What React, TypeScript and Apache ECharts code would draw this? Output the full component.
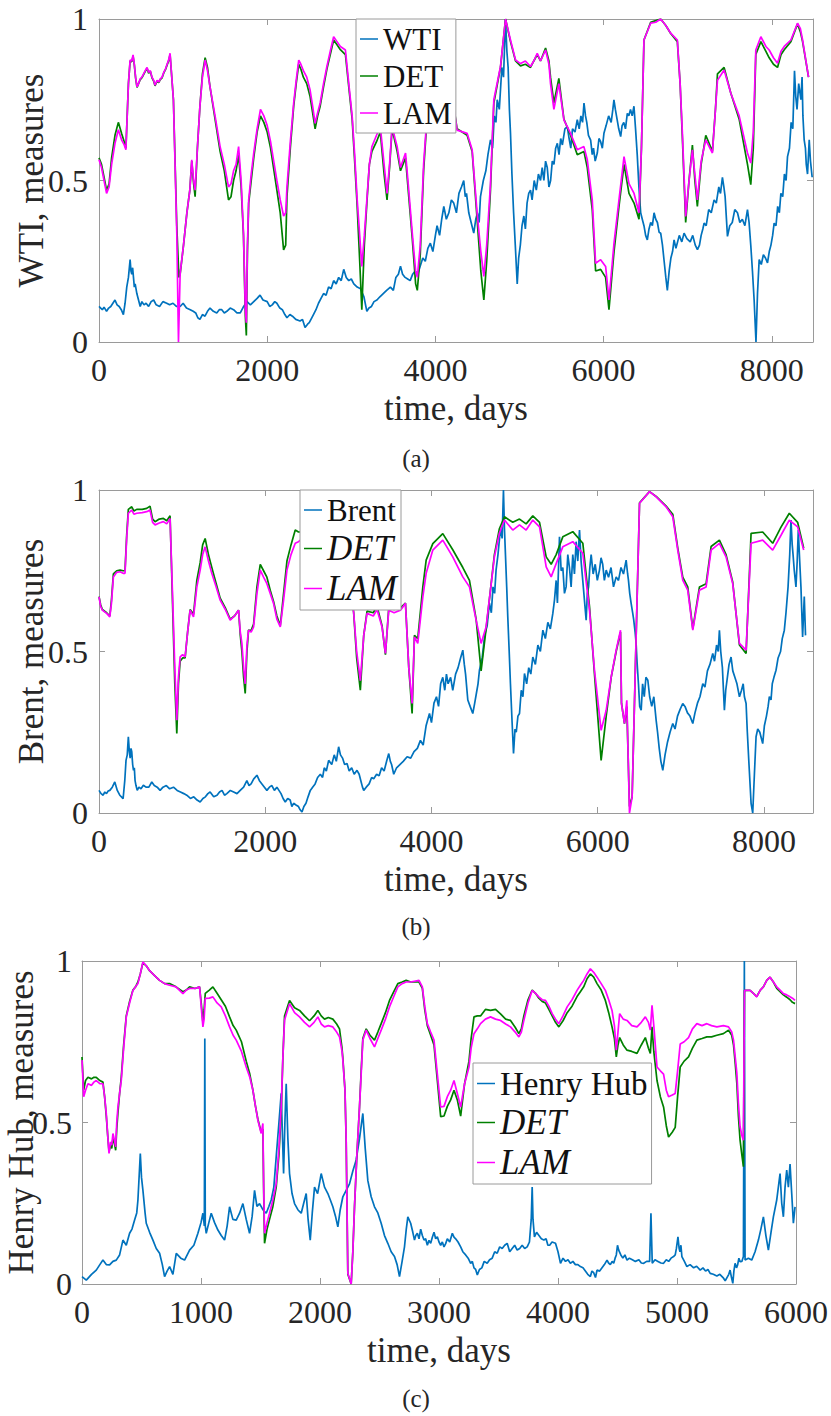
import React, { useEffect, useRef } from 'react';
import * as echarts from 'echarts';

// ---------- panel (a): WTI ----------
const wtiPrice = [
[0,0.11],[20,0.105],[40,0.10],[60,0.108],[90,0.095],[115,0.105],[140,0.11],[165,0.12],[190,0.13],[215,0.115],[240,0.11],[265,0.10],[290,0.085],[310,0.12],[330,0.17],[350,0.20],[370,0.255],[380,0.22],[390,0.21],[400,0.23],[410,0.20],[420,0.17],[430,0.18],[450,0.15],[470,0.13],[490,0.11],[510,0.125],[535,0.115],[560,0.12],[590,0.11],[620,0.125],[650,0.13],[680,0.115],[720,0.11],[760,0.125],[805,0.12],[840,0.115],[880,0.12],[920,0.11],[965,0.11],[1000,0.12],[1040,0.105],[1085,0.10],[1120,0.095],[1150,0.09],[1175,0.075],[1200,0.07],[1230,0.085],[1260,0.08],[1290,0.095],[1320,0.105],[1360,0.095],[1400,0.09],[1430,0.1],[1460,0.10],[1490,0.09],[1520,0.095],[1560,0.105],[1600,0.10],[1640,0.09],[1680,0.09],[1720,0.11],[1760,0.125],[1800,0.115],[1840,0.125],[1880,0.135],[1915,0.145],[1950,0.13],[2000,0.125],[2030,0.11],[2060,0.115],[2090,0.125],[2115,0.12],[2150,0.105],[2180,0.10],[2210,0.085],[2235,0.075],[2270,0.085],[2300,0.08],[2340,0.07],[2390,0.065],[2420,0.07],[2450,0.045],[2480,0.055],[2500,0.06],[2530,0.075],[2550,0.085],[2580,0.10],[2610,0.12],[2640,0.135],[2670,0.15],[2700,0.145],[2730,0.17],[2760,0.165],[2790,0.19],[2820,0.18],[2850,0.20],[2880,0.19],[2910,0.225],[2940,0.20],[2970,0.19],[3000,0.195],[3030,0.18],[3070,0.17],[3110,0.165],[3150,0.14],[3185,0.095],[3210,0.105],[3240,0.11],[3270,0.125],[3305,0.13],[3340,0.14],[3380,0.15],[3420,0.16],[3465,0.17],[3500,0.16],[3530,0.2],[3560,0.21],[3585,0.235],[3610,0.21],[3640,0.2],[3670,0.195],[3700,0.19],[3730,0.21],[3760,0.22],[3790,0.21],[3820,0.235],
[3850,0.26],[3880,0.25],[3910,0.29],[3940,0.306],[3970,0.28],[4000,0.33],[4020,0.36],[4050,0.33],[4075,0.38],[4100,0.42],[4130,0.38],[4160,0.40],[4190,0.44],[4218,0.43],[4250,0.40],[4280,0.46],[4310,0.48],[4337,0.50],[4355,0.45],[4370,0.46],[4397,0.40],[4425,0.37],[4456,0.337],[4480,0.38],[4500,0.40],[4520,0.37],[4536,0.45],[4570,0.50],[4600,0.53],[4625,0.58],[4655,0.626],[4680,0.60],[4700,0.70],[4720,0.68],[4735,0.75],[4760,0.72],[4790,0.85],[4810,0.82],[4834,1.0],[4850,0.90],[4865,0.85],[4880,0.72],[4893,0.646],[4910,0.52],[4930,0.40],[4950,0.30],[4973,0.18],[4990,0.26],[5010,0.30],[5030,0.36],[5052,0.39],[5070,0.35],[5090,0.43],[5110,0.46],[5131,0.47],[5150,0.44],[5175,0.50],[5200,0.47],[5225,0.52],[5250,0.50],[5270,0.54],[5290,0.50],[5310,0.56],[5330,0.54],[5350,0.48],[5370,0.50],[5390,0.56],[5410,0.55],[5430,0.60],[5450,0.615],[5470,0.58],[5490,0.63],[5510,0.61],[5540,0.66],[5568,0.667],[5590,0.63],[5610,0.60],[5630,0.66],[5660,0.65],[5687,0.688],[5710,0.66],[5730,0.70],[5750,0.68],[5767,0.74],[5785,0.70],[5800,0.68],[5820,0.64],[5846,0.625],[5865,0.58],[5880,0.60],[5900,0.56],[5925,0.585],[5945,0.63],[5965,0.62],[5985,0.60],[6004,0.646],[6030,0.67],[6060,0.70],[6090,0.68],[6110,0.72],[6123,0.75],[6140,0.72],[6160,0.69],[6180,0.66],[6203,0.636],[6220,0.67],[6240,0.68],[6260,0.66],[6282,0.708],[6300,0.70],[6320,0.72],[6340,0.70],[6361,0.73],[6380,0.66],[6400,0.58],[6420,0.48],[6441,0.40],[6460,0.38],[6480,0.36],[6500,0.33],[6520,0.316],[6540,0.35],[6560,0.37],[6580,0.36],[6600,0.40],[6620,0.38],[6640,0.37],[6660,0.34],[6679,0.337],[6700,0.30],[6720,0.25],[6740,0.20],[6758,0.16],[6780,0.22],[6800,0.26],[6820,0.28],[6838,0.316],[6860,0.29],[6880,0.31],[6900,0.33],[6930,0.31],[6957,0.337],[6990,0.32],[7030,0.31],[7060,0.33],[7090,0.30],[7116,0.286],[7140,0.30],[7160,0.33],[7180,0.35],[7195,0.368],[7220,0.36],[7250,0.41],[7280,0.40],[7314,0.44],[7340,0.43],[7370,0.48],[7390,0.46],[7413,0.51],[7430,0.48],[7445,0.45],[7473,0.327],[7500,0.36],[7530,0.37],[7560,0.41],[7592,0.40],[7620,0.37],[7650,0.38],[7680,0.36],[7711,0.41],[7730,0.37],[7750,0.30],[7770,0.22],[7790,0.13],[7812,0.0],[7830,0.15],[7850,0.255],[7875,0.24],[7900,0.27],[7925,0.26],[7949,0.245],[7970,0.28],[7990,0.30],[8010,0.33],[8028,0.368],[8050,0.36],[8070,0.42],[8090,0.40],[8108,0.46],[8130,0.45],[8150,0.52],[8170,0.50],[8187,0.574],[8210,0.60],[8230,0.68],[8250,0.66],[8270,0.84],[8285,0.76],[8300,0.72],[8320,0.80],[8346,0.75],[8360,0.82],[8370,0.70],[8385,0.626],[8400,0.60],[8410,0.55],[8425,0.52],[8445,0.626],[8460,0.56],[8480,0.51]
];
const wtiDET = [
[0,0.57],[30,0.55],[60,0.51],[90,0.47],[120,0.49],[150,0.57],[190,0.64],[230,0.68],[270,0.645],[300,0.62],[320,0.60],[350,0.80],[370,0.87],[390,0.868],[405,0.885],[420,0.858],[435,0.818],[452,0.788],[470,0.80],[490,0.812],[510,0.818],[530,0.828],[550,0.838],[571,0.848],[590,0.832],[610,0.838],[630,0.818],[650,0.808],[666,0.793],[690,0.808],[710,0.803],[730,0.813],[750,0.818],[770,0.833],[790,0.843],[810,0.858],[830,0.872],[845,0.89],[885,0.75],[925,0.36],[950,0.20],[965,0.21],[1005,0.30],[1045,0.40],[1080,0.47],[1103,0.56],[1125,0.49],[1143,0.45],[1170,0.60],[1200,0.73],[1230,0.83],[1262,0.88],[1290,0.85],[1320,0.79],[1380,0.69],[1440,0.59],[1490,0.53],[1540,0.44],[1570,0.45],[1600,0.50],[1630,0.53],[1660,0.58],[1690,0.48],[1718,0.33],[1740,0.08],[1752,0.02],[1765,0.28],[1780,0.43],[1810,0.50],[1840,0.57],[1880,0.65],[1920,0.70],[1960,0.68],[2000,0.65],[2040,0.60],[2075,0.54],[2115,0.47],[2155,0.40],[2195,0.285],[2220,0.30],[2235,0.45],[2275,0.60],[2315,0.73],[2345,0.80],[2375,0.86],[2400,0.845],[2430,0.82],[2470,0.80],[2510,0.76],[2540,0.71],[2570,0.66],[2600,0.70],[2630,0.73],[2670,0.79],[2710,0.845],[2750,0.89],[2790,0.935],[2830,0.92],[2870,0.905],[2930,0.89],[2970,0.79],[3010,0.69],[3040,0.56],[3070,0.42],[3100,0.25],[3125,0.10],[3155,0.30],[3185,0.43],[3215,0.55],[3245,0.59],[3300,0.62],[3345,0.65],[3390,0.52],[3425,0.44],[3455,0.54],[3485,0.66],[3520,0.62],[3545,0.59],[3585,0.53],[3645,0.57],[3680,0.46],[3725,0.32],[3765,0.18],[3785,0.16],[3820,0.27],[3860,0.53],[3900,0.69],[3950,0.77],[4000,0.80],[4100,0.77],[4218,0.73],[4258,0.66],[4377,0.64],[4437,0.59],[4496,0.38],[4540,0.22],[4576,0.13],[4610,0.25],[4655,0.47],[4695,0.74],[4774,0.85],[4834,1.0],[4893,0.93],[4953,0.87],[5012,0.855],[5070,0.86],[5131,0.85],[5170,0.87],[5211,0.89],[5250,0.87],[5310,0.91],[5350,0.87],[5369,0.82],[5409,0.74],[5468,0.816],[5528,0.69],[5607,0.64],[5687,0.58],[5766,0.59],[5806,0.54],[5865,0.41],[5905,0.22],[5965,0.225],[6024,0.20],[6064,0.10],[6124,0.28],[6183,0.42],[6243,0.55],[6302,0.46],[6362,0.43],[6421,0.38],[6450,0.60],[6480,0.935],[6560,0.99],[6620,0.995],[6679,1.0],[6740,0.98],[6798,0.955],[6877,0.93],[6910,0.80],[6937,0.63],[6976,0.37],[7016,0.50],[7056,0.61],[7085,0.50],[7115,0.42],[7160,0.55],[7215,0.64],[7294,0.59],[7330,0.72],[7354,0.83],[7433,0.85],[7513,0.77],[7612,0.69],[7711,0.55],[7750,0.487],[7780,0.60],[7810,0.89],[7870,0.93],[7930,0.90],[7969,0.88],[8020,0.86],[8068,0.85],[8110,0.89],[8148,0.905],[8227,0.93],[8306,0.985],[8340,0.96],[8366,0.93],[8437,0.82]
];
const wtiLAM = [
[0,0.564],[30,0.54],[60,0.50],[90,0.46],[120,0.48],[150,0.55],[190,0.615],[230,0.657],[270,0.625],[300,0.61],[320,0.595],[350,0.80],[370,0.873],[390,0.87],[405,0.889],[420,0.86],[435,0.82],[452,0.79],[470,0.80],[490,0.815],[510,0.82],[530,0.83],[550,0.84],[571,0.85],[590,0.835],[610,0.84],[630,0.82],[650,0.81],[666,0.795],[690,0.81],[710,0.805],[730,0.815],[750,0.82],[770,0.835],[790,0.845],[810,0.86],[830,0.875],[845,0.894],[885,0.75],[925,0.337],[945,0.0],[965,0.213],[1005,0.30],[1045,0.40],[1080,0.47],[1103,0.564],[1125,0.50],[1143,0.47],[1170,0.60],[1200,0.73],[1230,0.82],[1262,0.873],[1290,0.84],[1320,0.79],[1380,0.70],[1440,0.605],[1490,0.55],[1540,0.48],[1570,0.49],[1600,0.53],[1630,0.55],[1660,0.605],[1690,0.50],[1718,0.337],[1740,0.10],[1752,0.06],[1765,0.30],[1780,0.44],[1810,0.52],[1840,0.585],[1880,0.66],[1920,0.72],[1960,0.70],[2000,0.67],[2040,0.62],[2075,0.564],[2115,0.50],[2155,0.44],[2195,0.39],[2220,0.40],[2235,0.48],[2275,0.62],[2315,0.74],[2345,0.81],[2375,0.873],[2400,0.86],[2430,0.84],[2470,0.82],[2510,0.78],[2540,0.73],[2570,0.677],[2600,0.71],[2630,0.74],[2670,0.80],[2710,0.853],[2750,0.90],[2790,0.945],[2830,0.93],[2870,0.915],[2930,0.904],[2970,0.80],[3010,0.70],[3040,0.58],[3070,0.44],[3100,0.33],[3125,0.234],[3155,0.33],[3185,0.44],[3215,0.55],[3245,0.605],[3300,0.64],[3345,0.667],[3390,0.55],[3425,0.46],[3455,0.55],[3485,0.667],[3520,0.63],[3545,0.605],[3585,0.54],[3645,0.585],[3680,0.48],[3725,0.337],[3765,0.22],[3785,0.20],[3820,0.30],[3860,0.55],[3900,0.70],[3950,0.78],[4000,0.80],[4100,0.77],[4218,0.727],[4258,0.656],[4377,0.646],[4437,0.595],[4496,0.40],[4540,0.28],[4576,0.203],[4610,0.30],[4655,0.49],[4695,0.75],[4774,0.853],[4834,1.0],[4893,0.935],[4953,0.873],[5012,0.862],[5070,0.87],[5131,0.853],[5170,0.87],[5211,0.894],[5250,0.87],[5310,0.904],[5350,0.86],[5369,0.80],[5409,0.72],[5468,0.80],[5528,0.688],[5607,0.646],[5687,0.595],[5766,0.605],[5806,0.564],[5865,0.44],[5905,0.244],[5965,0.255],[6024,0.234],[6064,0.13],[6124,0.306],[6183,0.44],[6243,0.574],[6302,0.49],[6362,0.46],[6421,0.40],[6450,0.60],[6480,0.935],[6560,0.987],[6620,0.99],[6679,1.0],[6740,0.98],[6798,0.956],[6877,0.935],[6910,0.80],[6937,0.646],[6976,0.389],[7016,0.50],[7056,0.595],[7085,0.52],[7115,0.44],[7160,0.56],[7215,0.626],[7294,0.585],[7330,0.72],[7354,0.81],[7433,0.842],[7513,0.77],[7612,0.70],[7711,0.585],[7750,0.554],[7780,0.65],[7810,0.904],[7870,0.945],[7930,0.915],[7969,0.904],[8020,0.88],[8068,0.863],[8110,0.90],[8148,0.915],[8227,0.935],[8306,0.987],[8340,0.97],[8366,0.935],[8437,0.82]
];

// ---------- panel (b): Brent ----------
const brentPrice = [
[0,0.07],[25,0.06],[50,0.055],[70,0.065],[90,0.06],[110,0.068],[130,0.07],[160,0.08],[190,0.096],[220,0.07],[250,0.055],[270,0.05],[290,0.044],[310,0.10],[325,0.163],[340,0.18],[353,0.236],[365,0.19],[375,0.17],[385,0.2],[394,0.19],[405,0.15],[415,0.132],[425,0.14],[434,0.10],[445,0.085],[460,0.07],[480,0.08],[505,0.075],[534,0.086],[565,0.08],[600,0.08],[635,0.096],[665,0.085],[700,0.08],[735,0.07],[770,0.08],[810,0.085],[850,0.075],[896,0.08],[940,0.07],[980,0.065],[1020,0.06],[1056,0.055],[1100,0.045],[1140,0.05],[1180,0.04],[1217,0.034],[1250,0.045],[1280,0.05],[1310,0.06],[1337,0.065],[1380,0.05],[1420,0.055],[1450,0.065],[1480,0.07],[1510,0.055],[1538,0.06],[1580,0.07],[1620,0.065],[1660,0.06],[1699,0.07],[1740,0.08],[1779,0.10],[1805,0.085],[1830,0.09],[1860,0.105],[1900,0.117],[1930,0.10],[1960,0.09],[1990,0.08],[2020,0.07],[2050,0.08],[2080,0.085],[2110,0.07],[2140,0.08],[2165,0.07],[2190,0.06],[2215,0.045],[2241,0.034],[2270,0.045],[2300,0.04],[2320,0.02],[2341,0.03],[2370,0.025],[2400,0.02],[2420,0.01],[2442,0.003],[2465,0.02],[2490,0.03],[2515,0.05],[2542,0.07],[2570,0.08],[2600,0.09],[2630,0.11],[2663,0.12],[2690,0.11],[2710,0.14],[2735,0.13],[2763,0.163],[2800,0.15],[2830,0.18],[2855,0.16],[2883,0.205],[2905,0.18],[2930,0.17],[2955,0.15],[2984,0.153],[3010,0.13],[3040,0.14],[3070,0.12],[3104,0.132],[3130,0.12],[3150,0.10],[3170,0.08],[3185,0.07],[3215,0.08],[3250,0.09],[3280,0.11],[3305,0.106],[3340,0.12],[3370,0.115],[3400,0.14],[3430,0.13],[3460,0.16],[3486,0.184],[3505,0.16],[3520,0.15],[3546,0.12],[3580,0.14],[3620,0.15],[3660,0.16],[3707,0.174],[3750,0.17],[3790,0.19],[3830,0.20],[3867,0.225],
[3900,0.21],[3935,0.27],[3976,0.308],[4000,0.28],[4030,0.34],[4060,0.36],[4085,0.33],[4110,0.40],[4136,0.42],[4160,0.38],[4180,0.43],[4200,0.40],[4230,0.42],[4256,0.38],[4290,0.43],[4320,0.45],[4350,0.48],[4377,0.504],[4395,0.46],[4410,0.43],[4437,0.35],[4465,0.33],[4497,0.308],[4520,0.34],[4540,0.37],[4560,0.40],[4577,0.442],[4610,0.48],[4640,0.55],[4670,0.58],[4697,0.65],[4720,0.62],[4740,0.70],[4760,0.68],[4777,0.752],[4800,0.80],[4830,0.88],[4850,0.85],[4866,1.0],[4878,0.88],[4890,0.80],[4905,0.70],[4918,0.607],[4935,0.50],[4950,0.40],[4970,0.28],[4987,0.184],[5005,0.26],[5020,0.25],[5040,0.30],[5059,0.308],[5080,0.38],[5100,0.36],[5119,0.432],[5145,0.40],[5170,0.45],[5195,0.43],[5219,0.483],[5250,0.46],[5280,0.52],[5310,0.50],[5340,0.566],[5370,0.54],[5400,0.59],[5430,0.57],[5460,0.618],[5480,0.66],[5500,0.72],[5515,0.65],[5540,0.855],[5560,0.75],[5580,0.76],[5600,0.68],[5620,0.70],[5640,0.80],[5660,0.76],[5680,0.70],[5700,0.80],[5720,0.74],[5740,0.84],[5760,0.78],[5781,0.876],[5800,0.78],[5820,0.72],[5840,0.66],[5861,0.597],[5875,0.68],[5890,0.70],[5905,0.76],[5921,0.80],[5945,0.74],[5970,0.77],[5995,0.72],[6021,0.752],[6040,0.79],[6060,0.77],[6080,0.72],[6102,0.752],[6130,0.73],[6160,0.76],[6190,0.70],[6222,0.731],[6250,0.72],[6280,0.76],[6310,0.74],[6342,0.783],[6360,0.74],[6370,0.72],[6385,0.68],[6402,0.649],[6420,0.62],[6432,0.60],[6450,0.56],[6462,0.525],[6475,0.46],[6490,0.40],[6505,0.33],[6523,0.318],[6540,0.40],[6560,0.36],[6580,0.42],[6603,0.411],[6625,0.36],[6650,0.33],[6675,0.36],[6703,0.287],[6720,0.25],[6740,0.20],[6760,0.16],[6783,0.132],[6810,0.18],[6840,0.22],[6870,0.25],[6903,0.277],[6930,0.26],[6960,0.30],[6990,0.32],[7023,0.339],[7050,0.33],[7080,0.31],[7110,0.30],[7144,0.277],[7170,0.31],[7200,0.34],[7230,0.36],[7264,0.40],[7290,0.39],[7320,0.44],[7350,0.46],[7384,0.494],[7405,0.47],[7430,0.52],[7450,0.50],[7464,0.566],[7480,0.50],[7500,0.45],[7524,0.318],[7540,0.38],[7560,0.42],[7580,0.46],[7604,0.483],[7625,0.44],[7650,0.42],[7675,0.40],[7705,0.36],[7730,0.38],[7750,0.40],[7765,0.36],[7785,0.339],[7800,0.25],[7820,0.15],[7845,0.03],[7865,0.0],[7885,0.12],[7905,0.236],[7925,0.26],[7950,0.25],[7970,0.23],[7985,0.215],[8005,0.27],[8030,0.30],[8050,0.33],[8065,0.36],[8085,0.35],[8100,0.40],[8120,0.42],[8145,0.442],[8170,0.48],[8200,0.50],[8220,0.54],[8245,0.566],[8265,0.62],[8290,0.70],[8310,0.80],[8325,0.907],[8340,0.83],[8350,0.80],[8365,0.75],[8385,0.70],[8400,0.78],[8413,0.876],[8430,0.78],[8445,0.70],[8465,0.545],[8485,0.67],[8500,0.55]
];
const brentDET = [
[0,0.67],[20,0.645],[40,0.63],[92,0.62],[130,0.61],[150,0.66],[173,0.74],[213,0.75],[253,0.752],[290,0.75],[313,0.75],[333,0.86],[353,0.94],[394,0.948],[420,0.935],[454,0.94],[520,0.94],[574,0.943],[614,0.95],[645,0.91],[675,0.902],[725,0.91],[775,0.912],[815,0.905],[855,0.92],[888,0.62],[912,0.40],[936,0.246],[956,0.40],[976,0.47],[1006,0.48],[1036,0.48],[1066,0.56],[1096,0.63],[1137,0.615],[1177,0.72],[1217,0.775],[1247,0.83],[1277,0.85],[1317,0.80],[1357,0.76],[1410,0.71],[1458,0.665],[1520,0.635],[1578,0.60],[1630,0.61],[1679,0.628],[1700,0.55],[1719,0.50],[1740,0.42],[1759,0.37],[1780,0.50],[1799,0.566],[1830,0.565],[1860,0.585],[1900,0.70],[1940,0.77],[1980,0.75],[2020,0.73],[2060,0.69],[2100,0.655],[2140,0.61],[2181,0.58],[2221,0.68],[2261,0.78],[2310,0.83],[2361,0.876],[2400,0.87],[2450,0.87],[2550,0.82],[2650,0.80],[2750,0.84],[2850,0.82],[2950,0.77],[3020,0.71],[3064,0.62],[3100,0.48],[3144,0.38],[3185,0.55],[3225,0.625],[3300,0.62],[3345,0.64],[3405,0.58],[3446,0.49],[3486,0.635],[3550,0.63],[3627,0.635],[3687,0.65],[3727,0.45],[3767,0.308],[3795,0.55],[3835,0.54],[3896,0.70],[3936,0.783],[4016,0.834],[4136,0.865],[4256,0.815],[4377,0.76],[4457,0.72],[4537,0.60],[4597,0.44],[4657,0.57],[4757,0.80],[4817,0.88],[4878,0.917],[4978,0.90],[5059,0.91],[5139,0.895],[5219,0.92],[5300,0.90],[5380,0.793],[5440,0.77],[5500,0.80],[5580,0.855],[5700,0.871],[5821,0.835],[5901,0.64],[5961,0.43],[6041,0.163],[6102,0.30],[6162,0.42],[6222,0.50],[6274,0.56],[6286,0.34],[6322,0.277],[6350,0.33],[6382,0.02],[6414,0.05],[6462,0.545],[6503,0.96],[6623,0.995],[6703,0.98],[6823,0.95],[6903,0.925],[6963,0.82],[7023,0.73],[7083,0.70],[7144,0.57],[7224,0.70],[7304,0.71],[7364,0.825],[7464,0.845],[7544,0.80],[7624,0.715],[7705,0.52],[7785,0.494],[7845,0.866],[7985,0.87],[8105,0.835],[8205,0.885],[8305,0.928],[8405,0.90],[8478,0.82]
];
const brentLAM = [
[0,0.669],[20,0.64],[40,0.628],[92,0.618],[130,0.607],[150,0.65],[173,0.731],[213,0.745],[253,0.747],[290,0.742],[313,0.742],[333,0.85],[353,0.928],[394,0.938],[420,0.925],[454,0.928],[520,0.93],[574,0.933],[614,0.938],[645,0.90],[675,0.892],[725,0.898],[775,0.902],[815,0.895],[855,0.912],[888,0.649],[912,0.45],[936,0.287],[956,0.42],[976,0.483],[1006,0.49],[1036,0.483],[1066,0.56],[1096,0.628],[1137,0.607],[1177,0.70],[1217,0.752],[1247,0.80],[1277,0.824],[1317,0.78],[1357,0.742],[1410,0.70],[1458,0.659],[1520,0.63],[1578,0.597],[1630,0.61],[1679,0.628],[1700,0.56],[1719,0.525],[1740,0.45],[1759,0.40],[1780,0.52],[1799,0.566],[1830,0.56],[1860,0.576],[1900,0.68],[1940,0.752],[1980,0.73],[2020,0.71],[2060,0.68],[2100,0.649],[2140,0.60],[2181,0.576],[2221,0.66],[2261,0.752],[2310,0.80],[2361,0.835],[2400,0.84],[2450,0.85],[2550,0.80],[2650,0.78],[2750,0.82],[2850,0.80],[2950,0.75],[3020,0.70],[3064,0.62],[3100,0.50],[3144,0.41],[3185,0.55],[3225,0.618],[3300,0.61],[3345,0.63],[3405,0.576],[3446,0.494],[3486,0.628],[3550,0.62],[3627,0.628],[3687,0.649],[3727,0.45],[3767,0.339],[3795,0.545],[3835,0.525],[3896,0.669],[3936,0.742],[4016,0.814],[4136,0.845],[4256,0.793],[4377,0.731],[4457,0.70],[4537,0.597],[4597,0.525],[4657,0.576],[4757,0.793],[4817,0.866],[4878,0.907],[4978,0.876],[5059,0.892],[5139,0.876],[5219,0.907],[5300,0.886],[5380,0.762],[5440,0.731],[5500,0.772],[5580,0.824],[5700,0.84],[5821,0.804],[5901,0.628],[5961,0.442],[6041,0.256],[6102,0.318],[6162,0.421],[6222,0.504],[6274,0.566],[6286,0.339],[6322,0.277],[6350,0.349],[6382,0.0],[6414,0.05],[6462,0.545],[6503,0.959],[6623,0.995],[6703,0.979],[6823,0.948],[6903,0.917],[6963,0.814],[7023,0.721],[7083,0.69],[7144,0.566],[7224,0.69],[7304,0.70],[7364,0.814],[7464,0.835],[7544,0.793],[7624,0.71],[7705,0.525],[7785,0.504],[7845,0.835],[7985,0.845],[8105,0.814],[8205,0.86],[8305,0.907],[8405,0.886],[8478,0.814]
];

// ---------- panel (c): Henry Hub ----------
const hhPrice = [
[0,0.023],[36,0.012],[80,0.03],[120,0.043],[150,0.06],[176,0.074],[204,0.06],[232,0.059],[260,0.07],[288,0.074],[316,0.09],[344,0.136],[372,0.12],[400,0.157],[420,0.17],[442,0.198],[460,0.22],[470,0.26],[490,0.404],[500,0.33],[512,0.29],[530,0.22],[540,0.188],[568,0.16],[596,0.136],[624,0.11],[652,0.095],[675,0.06],[694,0.023],[715,0.04],[736,0.054],[764,0.03],[792,0.095],[830,0.08],[862,0.074],[904,0.105],[940,0.12],[974,0.157],[1000,0.19],[1016,0.219],[1028,0.18],[1032,0.76],[1036,0.18],[1044,0.157],[1066,0.19],[1086,0.219],[1114,0.19],[1142,0.167],[1170,0.15],[1198,0.136],[1220,0.18],[1240,0.239],[1268,0.20],[1296,0.198],[1325,0.22],[1352,0.249],[1380,0.20],[1408,0.157],[1430,0.21],[1450,0.29],[1470,0.24],[1492,0.249],[1520,0.23],[1548,0.219],[1570,0.24],[1590,0.26],[1612,0.30],[1632,0.394],[1655,0.50],[1674,0.59],[1694,0.342],[1705,0.50],[1716,0.62],[1730,0.45],[1744,0.342],[1765,0.28],[1786,0.249],[1814,0.23],[1842,0.219],[1863,0.25],[1884,0.28],[1900,0.20],[1918,0.136],[1935,0.22],[1954,0.30],[1980,0.28],[2010,0.342],[2038,0.30],[2066,0.28],[2087,0.26],[2108,0.239],[2130,0.21],[2150,0.177],[2170,0.23],[2192,0.27],[2220,0.29],[2248,0.31],[2276,0.35],[2304,0.384],[2332,0.45],[2360,0.528],[2380,0.42],[2402,0.32],[2430,0.27],[2458,0.239],[2486,0.22],[2514,0.188],[2542,0.15],[2570,0.126],[2598,0.10],[2626,0.085],[2648,0.06],[2668,0.023],[2690,0.07],[2710,0.115],[2725,0.17],[2738,0.208],
[2762,0.188],[2780,0.16],[2794,0.136],[2805,0.15],[2818,0.157],[2832,0.14],[2846,0.17],[2860,0.15],[2874,0.136],[2888,0.14],[2902,0.12],[2916,0.135],[2930,0.126],[2944,0.145],[2958,0.16],[2972,0.14],[2986,0.146],[3000,0.13],[3014,0.12],[3028,0.13],[3042,0.115],[3056,0.125],[3070,0.14],[3090,0.13],[3112,0.157],[3126,0.145],[3140,0.14],[3160,0.13],[3182,0.115],[3200,0.1],[3224,0.09],[3245,0.08],[3266,0.064],[3280,0.07],[3294,0.05],[3308,0.045],[3322,0.028],[3340,0.045],[3360,0.05],[3380,0.07],[3405,0.064],[3425,0.075],[3447,0.08],[3468,0.1],[3489,0.095],[3510,0.115],[3531,0.11],[3552,0.12],[3573,0.126],[3594,0.1],[3615,0.11],[3636,0.12],[3657,0.105],[3678,0.11],[3699,0.12],[3720,0.11],[3741,0.115],[3760,0.13],[3775,0.20],[3783,0.30],[3790,0.20],[3802,0.146],[3820,0.16],[3840,0.15],[3860,0.14],[3881,0.136],[3900,0.14],[3915,0.12],[3930,0.12],[3950,0.13],[3979,0.126],[4000,0.10],[4021,0.064],[4042,0.08],[4063,0.07],[4084,0.075],[4104,0.064],[4125,0.07],[4146,0.06],[4167,0.06],[4188,0.054],[4210,0.05],[4230,0.04],[4250,0.03],[4272,0.023],[4285,0.04],[4300,0.035],[4315,0.02],[4328,0.043],[4350,0.04],[4370,0.05],[4390,0.06],[4412,0.074],[4425,0.065],[4440,0.06],[4455,0.07],[4468,0.064],[4480,0.08],[4490,0.09],[4500,0.12],[4510,0.105],[4528,0.09],[4545,0.08],[4562,0.09],[4580,0.074],[4600,0.08],[4625,0.075],[4650,0.07],[4680,0.075],[4700,0.065],[4720,0.064],[4745,0.07],[4770,0.07],[4781,0.219],[4792,0.064],[4815,0.075],[4840,0.07],[4865,0.065],[4887,0.064],[4910,0.075],[4930,0.07],[4950,0.08],[4971,0.085],[4985,0.09],[4995,0.11],[5008,0.146],[5018,0.11],[5025,0.10],[5033,0.12],[5041,0.085],[5062,0.07],[5083,0.054],[5110,0.06],[5140,0.05],[5165,0.055],[5195,0.043],[5218,0.05],[5240,0.04],[5260,0.045],[5279,0.033],[5305,0.03],[5335,0.025],[5360,0.03],[5391,0.018],[5405,0.01],[5420,0.02],[5435,0.03],[5446,0.043],[5458,0.02],[5469,0.002],[5478,0.04],[5488,0.064],[5500,0.05],[5510,0.06],[5520,0.08],[5530,0.069],[5545,0.07],[5558,0.085],[5566,1.0],[5572,0.074],[5600,0.08],[5628,0.074],[5656,0.10],[5684,0.136],[5705,0.17],[5726,0.208],[5747,0.15],[5768,0.105],[5790,0.16],[5810,0.208],[5838,0.26],[5866,0.342],[5880,0.25],[5894,0.208],[5908,0.30],[5922,0.353],[5936,0.30],[5950,0.371],[5964,0.28],[5978,0.188],[5992,0.239]
];
const hhDET = [
[0,0.703],[14,0.60],[30,0.63],[50,0.64],[80,0.635],[100,0.64],[120,0.64],[150,0.63],[176,0.625],[190,0.58],[204,0.52],[216,0.46],[227,0.41],[240,0.43],[250,0.42],[260,0.45],[270,0.44],[283,0.414],[292,0.48],[302,0.53],[316,0.59],[330,0.64],[350,0.74],[372,0.83],[400,0.875],[428,0.91],[450,0.92],[470,0.935],[490,0.96],[512,0.995],[540,0.985],[568,0.97],[610,0.955],[652,0.94],[694,0.93],[736,0.93],[790,0.92],[848,0.905],[876,0.91],[904,0.92],[950,0.915],[988,0.92],[1002,0.87],[1016,0.81],[1026,0.85],[1036,0.90],[1070,0.91],[1100,0.92],[1135,0.90],[1170,0.88],[1205,0.86],[1240,0.827],[1270,0.80],[1296,0.786],[1340,0.75],[1380,0.69],[1410,0.65],[1436,0.60],[1458,0.55],[1478,0.51],[1506,0.47],[1520,0.48],[1527,0.28],[1534,0.126],[1555,0.17],[1576,0.20],[1604,0.24],[1632,0.30],[1655,0.40],[1674,0.53],[1688,0.70],[1702,0.83],[1744,0.878],[1786,0.855],[1828,0.847],[1870,0.83],[1912,0.815],[1950,0.83],[1982,0.847],[2010,0.83],[2038,0.82],[2070,0.825],[2108,0.82],[2140,0.805],[2164,0.79],[2185,0.73],[2192,0.70],[2210,0.60],[2220,0.44],[2234,0.03],[2262,0.0],[2276,0.10],[2290,0.239],[2310,0.40],[2332,0.548],[2346,0.66],[2360,0.76],[2388,0.79],[2420,0.77],[2458,0.755],[2486,0.78],[2514,0.806],[2550,0.84],[2584,0.878],[2620,0.905],[2654,0.93],[2690,0.935],[2724,0.94],[2762,0.935],[2832,0.935],[2860,0.915],[2880,0.85],[2902,0.80],[2930,0.77],[2958,0.74],[2986,0.63],[3014,0.518],[3042,0.52],[3070,0.55],[3098,0.57],[3126,0.60],[3154,0.57],[3182,0.52],[3215,0.62],[3252,0.69],[3270,0.76],[3294,0.827],[3322,0.83],[3349,0.83],[3390,0.85],[3433,0.847],[3475,0.85],[3517,0.836],[3560,0.82],[3601,0.816],[3640,0.795],[3671,0.775],[3692,0.79],[3713,0.83],[3748,0.88],[3783,0.91],[3811,0.90],[3839,0.885],[3867,0.875],[3895,0.87],[3923,0.85],[3951,0.83],[3979,0.81],[4007,0.796],[4042,0.815],[4077,0.84],[4118,0.86],[4160,0.89],[4188,0.905],[4216,0.92],[4244,0.945],[4272,0.96],[4300,0.95],[4328,0.93],[4363,0.91],[4398,0.878],[4426,0.84],[4454,0.796],[4474,0.76],[4490,0.703],[4504,0.74],[4518,0.763],[4548,0.74],[4580,0.724],[4620,0.72],[4664,0.714],[4700,0.74],[4734,0.763],[4760,0.73],[4776,0.714],[4790,0.796],[4805,0.72],[4832,0.63],[4860,0.58],[4887,0.548],[4910,0.49],[4929,0.455],[4960,0.47],[4985,0.485],[5005,0.58],[5027,0.672],[5060,0.69],[5097,0.703],[5130,0.73],[5167,0.755],[5210,0.76],[5251,0.765],[5290,0.765],[5335,0.77],[5390,0.775],[5433,0.786],[5460,0.77],[5475,0.74],[5490,0.68],[5503,0.62],[5516,0.52],[5530,0.445],[5545,0.40],[5558,0.363],[5567,0.909],[5614,0.909],[5642,0.90],[5670,0.89],[5700,0.91],[5726,0.92],[5754,0.94],[5782,0.95],[5810,0.935],[5838,0.915],[5866,0.905],[5894,0.895],[5922,0.888],[5950,0.88],[5970,0.872],[5992,0.868]
];
const hhLAM = [
[0,0.693],[14,0.58],[30,0.60],[50,0.62],[80,0.615],[100,0.625],[120,0.63],[150,0.62],[176,0.62],[190,0.58],[204,0.528],[216,0.46],[227,0.404],[240,0.44],[250,0.43],[260,0.466],[270,0.45],[283,0.425],[292,0.50],[302,0.548],[316,0.59],[330,0.63],[350,0.73],[372,0.827],[400,0.87],[428,0.909],[450,0.92],[470,0.93],[490,0.96],[512,0.997],[540,0.985],[568,0.97],[610,0.955],[652,0.94],[694,0.93],[736,0.925],[790,0.92],[848,0.899],[876,0.91],[904,0.915],[950,0.915],[988,0.92],[1002,0.858],[1016,0.796],[1026,0.82],[1036,0.884],[1070,0.885],[1100,0.889],[1135,0.87],[1170,0.858],[1205,0.83],[1240,0.796],[1270,0.77],[1296,0.755],[1340,0.72],[1380,0.672],[1410,0.64],[1436,0.60],[1458,0.55],[1478,0.507],[1506,0.466],[1520,0.497],[1527,0.30],[1534,0.157],[1555,0.19],[1576,0.219],[1604,0.26],[1632,0.311],[1655,0.42],[1674,0.548],[1688,0.70],[1702,0.817],[1744,0.868],[1786,0.84],[1828,0.827],[1870,0.81],[1912,0.796],[1950,0.81],[1982,0.827],[2010,0.805],[2038,0.796],[2070,0.80],[2108,0.796],[2140,0.78],[2164,0.765],[2185,0.72],[2192,0.693],[2210,0.60],[2220,0.445],[2234,0.033],[2262,0.0],[2276,0.10],[2290,0.239],[2310,0.40],[2332,0.548],[2346,0.65],[2360,0.755],[2388,0.786],[2420,0.76],[2458,0.734],[2486,0.76],[2514,0.786],[2550,0.82],[2584,0.858],[2620,0.89],[2654,0.92],[2690,0.93],[2724,0.935],[2762,0.935],[2832,0.94],[2860,0.92],[2880,0.86],[2902,0.806],[2930,0.78],[2958,0.755],[2986,0.65],[3014,0.548],[3042,0.55],[3070,0.58],[3098,0.60],[3126,0.63],[3154,0.59],[3182,0.548],[3215,0.62],[3252,0.672],[3270,0.73],[3294,0.775],[3322,0.79],[3349,0.806],[3390,0.82],[3433,0.827],[3475,0.82],[3517,0.816],[3560,0.805],[3601,0.796],[3640,0.78],[3671,0.765],[3692,0.78],[3713,0.816],[3748,0.87],[3783,0.909],[3811,0.90],[3839,0.889],[3867,0.88],[3895,0.878],[3923,0.86],[3951,0.837],[3979,0.82],[4007,0.806],[4042,0.83],[4077,0.858],[4118,0.88],[4160,0.909],[4188,0.925],[4216,0.94],[4244,0.96],[4272,0.976],[4300,0.965],[4328,0.95],[4363,0.93],[4398,0.909],[4426,0.88],[4454,0.847],[4474,0.80],[4490,0.724],[4504,0.78],[4518,0.837],[4548,0.82],[4580,0.816],[4620,0.80],[4664,0.796],[4700,0.81],[4734,0.827],[4760,0.81],[4776,0.786],[4790,0.863],[4805,0.80],[4832,0.672],[4860,0.66],[4887,0.65],[4910,0.60],[4929,0.58],[4960,0.585],[4985,0.59],[5005,0.66],[5027,0.743],[5060,0.75],[5097,0.763],[5130,0.79],[5167,0.806],[5210,0.80],[5251,0.806],[5290,0.80],[5335,0.796],[5390,0.80],[5433,0.796],[5460,0.78],[5475,0.755],[5490,0.70],[5503,0.652],[5516,0.56],[5530,0.487],[5545,0.46],[5558,0.445],[5567,0.909],[5614,0.909],[5642,0.90],[5670,0.889],[5700,0.91],[5726,0.92],[5754,0.94],[5782,0.95],[5810,0.935],[5838,0.92],[5866,0.91],[5894,0.899],[5922,0.895],[5950,0.889],[5970,0.885],[5992,0.878]
];

const xMaxes = [8490, 8590, 6000];
const xIntervals = [2000, 2000, 1000];
const priceNames = ['WTI', 'Brent', 'Henry Hub'];
const yTitles = ['WTI, measures', 'Brent, measures', 'Henry Hub, measures'];
const captions = ['(a)', '(b)', '(c)'];

const FONT = 'Liberation Serif';
const BLUE = '#0072BD';
const GREEN = '#008000';
const MAGENTA = '#FF00FF';
const AXIS = '#9a9a9a';
const TXT = '#262626';

export default function App() {
  const ref = useRef<HTMLDivElement>(null);
  useEffect(() => {
    if (!ref.current) return;
    const chart = echarts.init(ref.current, null, { renderer: 'svg' });
    const grids = [
      { left: 99, top: 19, width: 714, height: 323 },
      { left: 99, top: 490, width: 714, height: 323 },
      { left: 82, top: 961, width: 714, height: 323 },
    ];
    const dataSets = [
      [wtiPrice, wtiDET, wtiLAM],
      [brentPrice, brentDET, brentLAM],
      [hhPrice, hhDET, hhLAM],
    ];
    const legendPos = [
      { left: 356, top: 19 },
      { left: 300, top: 490 },
      { left: 473, top: 1063 },
    ];
    const xAxes: any[] = [];
    const yAxes: any[] = [];
    const series: any[] = [];
    const legends: any[] = [];
    const graphics: any[] = [];
    const axisLine = { show: true, onZero: false, lineStyle: { color: AXIS, width: 1 } };
    const tick = { show: true, inside: true, length: 6, lineStyle: { color: AXIS, width: 1 } };
    for (let i = 0; i < 3; i++) {
      const iv = xIntervals[i];
      const base = { gridIndex: i, type: 'value', min: 0, max: xMaxes[i], interval: iv, splitLine: { show: false }, axisLine, axisTick: tick };
      xAxes.push({
        ...base, position: 'bottom',
        axisLabel: {
          show: true, margin: 12, fontFamily: FONT, fontSize: 32, color: TXT,
          showMaxLabel: i === 2,
          formatter: (v: number) => (v % iv === 0 ? String(v) : ''),
        },
      });
      xAxes.push({ ...base, position: 'top', axisLabel: { show: false } });
      const ybase = { gridIndex: i, type: 'value', min: 0, max: 1, interval: 0.5, splitLine: { show: false }, axisLine, axisTick: tick };
      yAxes.push({
        ...ybase, position: 'left',
        axisLabel: { show: true, margin: i === 2 ? 10 : 11, fontFamily: FONT, fontSize: 32, color: TXT, formatter: (v: number) => String(v) },
      });
      yAxes.push({ ...ybase, position: 'right', axisLabel: { show: false } });
      const names = [priceNames[i], 'DET', 'LAM'];
      const colors = [BLUE, GREEN, MAGENTA];
      dataSets[i].forEach((arr, k) => {
        series.push({
          type: 'line', name: names[k], xAxisIndex: 2 * i, yAxisIndex: 2 * i,
          data: arr, symbol: 'none', showSymbol: false, clip: true,
          lineStyle: { color: colors[k], width: 1.7 }, itemStyle: { color: colors[k] },
          emphasis: { disabled: true }, z: 2 + k,
        });
      });
      legends.push({
        show: true, orient: 'vertical', ...legendPos[i],
        data: names.map((n) => ({ name: n, icon: 'rect' })),
        itemWidth: 18, itemHeight: 1.5, itemGap: 5,
        padding: [4, 4, 4, 4], borderColor: AXIS, borderWidth: 1, backgroundColor: '#fff',
        selectedMode: false,
        formatter: (name: string) => (i > 0 && (name === 'DET' || name === 'LAM') ? `{it|${name}}` : name),
        textStyle: {
          fontFamily: FONT, fontSize: i === 2 ? 33 : 31, color: '#111', lineHeight: 32,
          rich: { it: { fontFamily: FONT, fontStyle: 'italic', fontSize: 35, color: '#111', lineHeight: 32 } },
        },
        z: 10,
      });
      const g = grids[i];
      const cx = g.left + g.width / 2;
      const cy = g.top + g.height / 2;
      graphics.push({
        type: 'text', x: i === 2 ? 21 : 31, y: cy, rotation: Math.PI / 2,
        style: { text: yTitles[i], fontSize: 35, fontFamily: FONT, fill: TXT, textAlign: 'center', textVerticalAlign: 'middle' },
      });
      graphics.push({
        type: 'text', x: cx, y: g.top + g.height + 66,
        style: { text: 'time, days', fontSize: 35, fontFamily: FONT, fill: TXT, textAlign: 'center', textVerticalAlign: 'middle' },
      });
      graphics.push({
        type: 'text', x: 416, y: [458, 926, 1398][i],
        style: { text: captions[i], fontSize: 25, fontFamily: FONT, fill: TXT, textAlign: 'center', textVerticalAlign: 'middle' },
      });
    }
    chart.setOption({
      animation: false,
      backgroundColor: '#fff',
      grid: grids,
      xAxis: xAxes,
      yAxis: yAxes,
      legend: legends,
      series,
      graphic: graphics,
    });
    return () => chart.dispose();
  }, []);
  return <div ref={ref} style={{ position: 'absolute', left: 0, top: 0, width: 831, height: 1416, background: '#fff' }} />;
}
